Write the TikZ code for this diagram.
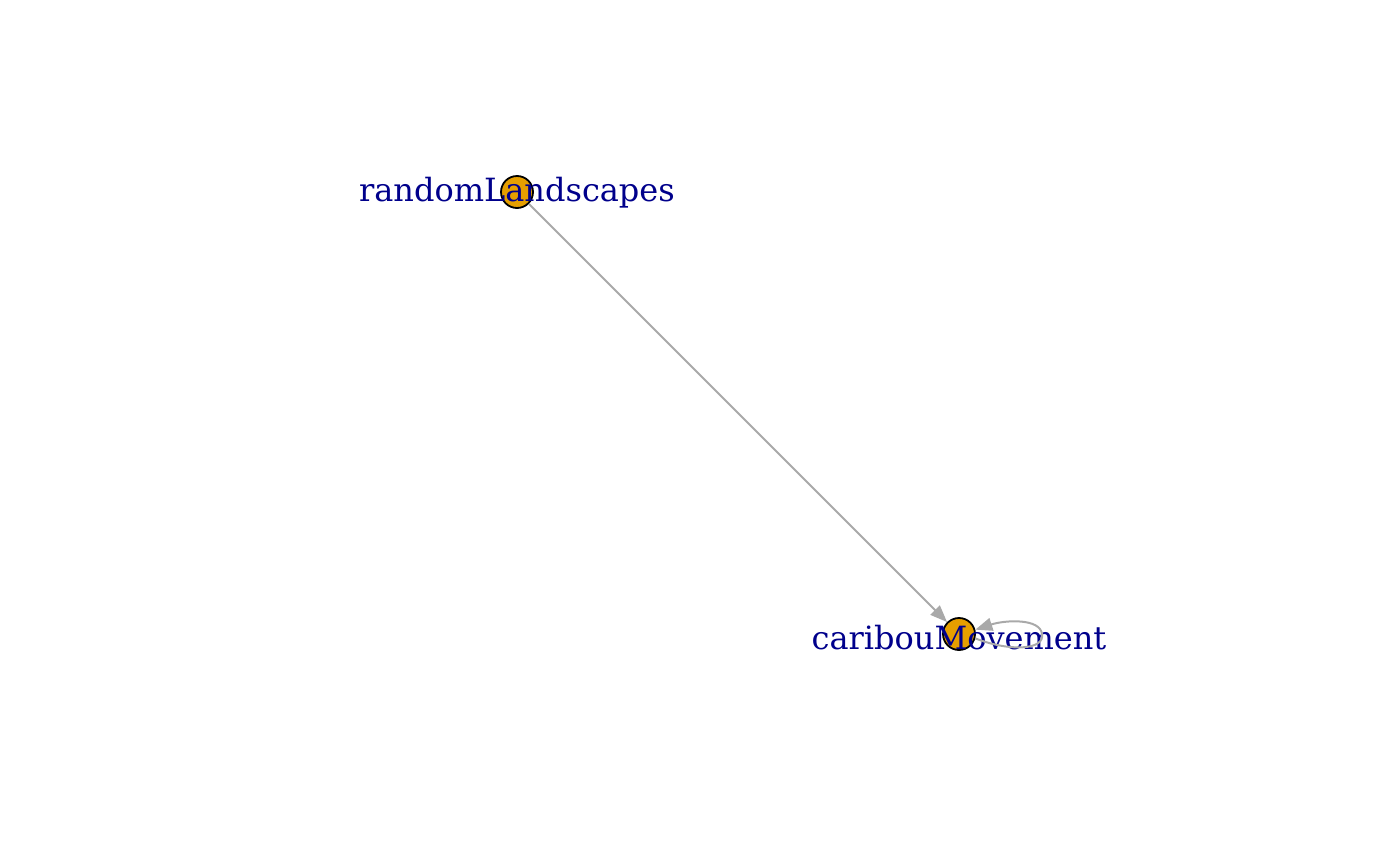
\documentclass[tikz,border=0pt]{standalone}
\usepackage{fontspec}
\setmainfont{DejaVu Serif}
\usetikzlibrary{arrows.meta}
\definecolor{vfill}{HTML}{E69F00}
\definecolor{lbl}{HTML}{00008B}
\definecolor{edge}{HTML}{A9A9A9}
\begin{document}
\begin{tikzpicture}[x=1bp,y=-1bp,
  vert/.style={circle,draw=black,fill=vfill,line width=1.8bp,minimum size=32bp,inner sep=0pt},
  vlabel/.style={text=lbl,font=\fontsize{32bp}{36bp}\selectfont,inner sep=0pt,anchor=center},
  conn/.style={draw=edge,line width=2bp,-{Triangle[length=17bp,width=13bp]}}]
\useasboundingbox (0,0) rectangle (1400,866);
\node[vert] (rl) at (517,192) {};
\node[vert] (cm) at (959,634) {};
\node[vlabel] at (517,193) {randomLandscapes};
\node[vlabel] at (959,638) {caribouMovement};
\draw[conn] (rl) -- (cm);
\coordinate (lp) at (1042,634);
\draw[conn] (cm.-15) .. controls (1010,652) and (1045,650) .. (lp) .. controls (1040,618) and (1005,620) .. (cm.15);
\end{tikzpicture}
\end{document}
